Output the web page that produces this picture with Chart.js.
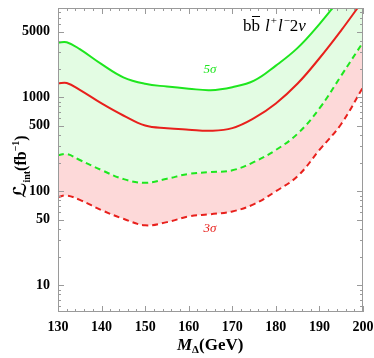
<!DOCTYPE html>
<html>
<head>
<meta charset="utf-8">
<script src="https://cdn.jsdelivr.net/npm/chart.js@4.4.1/dist/chart.umd.min.js"></script>
<style>
  html, body { margin: 0; padding: 0; background: #fff; }
  #wrap { width: 374px; height: 358px; position: relative; }
</style>
</head>
<body>
<div id="wrap"><canvas id="c"></canvas></div>
<script>
// M_Delta (GeV)
const masses = [130, 132, 135, 140, 145, 150, 155, 160, 165, 170, 175, 180, 185, 190, 195, 200];
// L_int (fb^-1)
const green5Solid = [3820, 3850, 3250, 2250, 1630, 1390, 1300, 1235, 1190, 1280, 1500, 2170, 3350, 6000, 11500, 21000];
const red5Solid   = [1400, 1420, 1200, 860, 640, 500, 468, 452, 440, 470, 600, 860, 1400, 2600, 5150, 10700];
const green3Dash  = [241, 249, 215, 168, 135, 123, 136, 153, 160, 167, 205, 275, 410, 760, 1700, 3850];
const red3Dash    = [87, 90, 81, 63, 51, 43.5, 47, 54, 57, 61, 73, 100, 145, 275, 520, 1280];

const xTicks = [130, 140, 150, 160, 170, 180, 190, 200];
const yTicks = [10, 50, 100, 500, 1000, 5000];

const GREEN = '#1ee61e';
const RED = '#e8201c';
const SERIF = '"Liberation Serif", "DejaVu Serif", serif';

function pts(ys) {
  return masses.map((m, i) => ({ x: m, y: ys[i] }));
}

// frame, inward ticks on all four sides, and text labels
const decor = {
  id: 'decor',
  afterDatasetsDraw(chart) {
    const { ctx, chartArea: a, scales } = chart;
    const xs = scales.x, ys = scales.y;
    ctx.save();
    ctx.strokeStyle = '#9a9a9a';
    ctx.lineWidth = 1;
    ctx.strokeRect(a.left + 0.5, a.top + 0.5, a.right - a.left - 1, a.bottom - a.top - 1);

    ctx.beginPath();
    // x ticks
    for (let v = 130; v <= 200; v += 2) {
      const px = Math.round(xs.getPixelForValue(v)) + 0.5;
      const len = v % 10 === 0 ? 6 : 3;
      ctx.moveTo(px, a.bottom); ctx.lineTo(px, a.bottom - len);
      ctx.moveTo(px, a.top); ctx.lineTo(px, a.top + len);
    }
    // y ticks
    for (let e = 0; e <= 4; e++) {
      for (let k = 1; k <= 9; k++) {
        const v = k * Math.pow(10, e);
        if (v < ys.min || v > ys.max) continue;
        const py = Math.round(ys.getPixelForValue(v)) + 0.5;
        const len = yTicks.includes(v) ? 6 : 3;
        ctx.moveTo(a.left, py); ctx.lineTo(a.left + len, py);
        ctx.moveTo(a.right, py); ctx.lineTo(a.right - len, py);
      }
    }
    ctx.stroke();

    // in-plot labels
    ctx.textBaseline = 'middle';
    ctx.textAlign = 'center';
    ctx.fillStyle = GREEN;
    ctx.font = 'italic 13px ' + SERIF;
    ctx.fillText('5σ', 210, 70);
    ctx.fillStyle = RED;
    ctx.fillText('3σ', 210, 229);

    // process label: b b̄ l+ l- 2ν
    ctx.fillStyle = '#000';
    ctx.textAlign = 'left';
    ctx.textBaseline = 'alphabetic';
    let x = 243;
    const y0 = 31;
    const put = (t, font, dy) => {
      ctx.font = font;
      ctx.fillText(t, x, y0 + (dy || 0));
      x += ctx.measureText(t).width;
    };
    put('b', '17px ' + SERIF);
    const bx = x;
    put('b', '17px ' + SERIF);
    ctx.beginPath();
    ctx.moveTo(bx + 0.5, y0 - 14.5); ctx.lineTo(x, y0 - 14.5);
    ctx.strokeStyle = '#000'; ctx.lineWidth = 1; ctx.stroke();
    x += 5;
    put('l', 'italic 17px ' + SERIF);
    x += 1;
    put('+', '11px ' + SERIF, -7);
    x += 1;
    put('l', 'italic 17px ' + SERIF);
    x += 1;
    put('−', '11px ' + SERIF, -7);
    put('2', '17px ' + SERIF);
    put('ν', 'italic 17px ' + SERIF);

    // x axis title: M_Δ(GeV)
    x = 177;
    const yx = 350;
    const putx = (t, font, dy) => {
      ctx.font = font;
      ctx.fillText(t, x, yx + (dy || 0));
      x += ctx.measureText(t).width;
    };
    putx('M', 'bold italic 17px ' + SERIF);
    putx('Δ', 'bold 11px ' + SERIF, 3);
    putx('(GeV)', 'bold 17px ' + SERIF);

    // y axis title: L_int(fb^-1), rotated
    ctx.translate(26, 198);
    ctx.rotate(-Math.PI / 2);
    x = 0;
    const puty = (t, font, dy) => {
      ctx.font = font;
      ctx.fillText(t, x, dy || 0);
      x += ctx.measureText(t).width;
    };
    puty('ℒ', 'italic bold 18px "DejaVu Sans", "Noto Sans", serif');
    puty('int', 'bold 10px ' + SERIF, 4);
    puty('(fb', 'bold 16px ' + SERIF);
    puty('−1', 'bold 10px ' + SERIF, -7);
    puty(')', 'bold 16px ' + SERIF);
    ctx.restore();
  }
};

const ctx = document.getElementById('c');
new Chart(ctx, {
  type: 'line',
  data: {
    datasets: [
      { label: '5σ solid', data: pts(green5Solid), borderColor: GREEN, borderWidth: 2,
        fill: { target: 2 }, backgroundColor: '#e3fce3' },
      { label: '3σ solid', data: pts(red5Solid), borderColor: RED, borderWidth: 2, fill: false },
      { label: '5σ dashed', data: pts(green3Dash), borderColor: GREEN, borderWidth: 2,
        borderDash: [6, 4], fill: { target: 3 }, backgroundColor: '#fdd9d9' },
      { label: '3σ dashed', data: pts(red3Dash), borderColor: RED, borderWidth: 2,
        borderDash: [6, 4], fill: false }
    ]
  },
  options: {
    responsive: true,
    maintainAspectRatio: false,
    animation: false,
    devicePixelRatio: 1,
    layout: { padding: 0 },
    elements: { point: { radius: 0 }, line: { tension: 0.4 } },
    plugins: {
      legend: { display: false },
      tooltip: { enabled: false },
      filler: { propagate: false, drawTime: 'beforeDatasetsDraw' }
    },
    scales: {
      x: {
        type: 'linear', min: 130, max: 200,
        afterBuildTicks: (s) => { s.ticks = xTicks.map((v) => ({ value: v })); },
        afterFit: (s) => { s.height = 46; s.paddingLeft = 0; s.paddingRight = 11; },
        grid: { display: false, drawTicks: false },
        border: { display: false },
        ticks: { padding: 7, color: '#000', maxRotation: 0,
          font: { family: SERIF, size: 14, weight: 'bold' } }
      },
      y: {
        type: 'logarithmic', min: 5.2, max: 8900,
        afterBuildTicks: (s) => { s.ticks = yTicks.map((v) => ({ value: v })); },
        afterFit: (s) => { s.width = 58; s.paddingTop = 8; s.paddingBottom = 0; },
        grid: { display: false, drawTicks: false },
        border: { display: false },
        ticks: { padding: 8, color: '#000', autoSkip: false,
          font: { family: SERIF, size: 14, weight: 'bold' },
          callback: (v) => String(v) }
      }
    }
  },
  plugins: [decor]
});
</script>
</body>
</html>
